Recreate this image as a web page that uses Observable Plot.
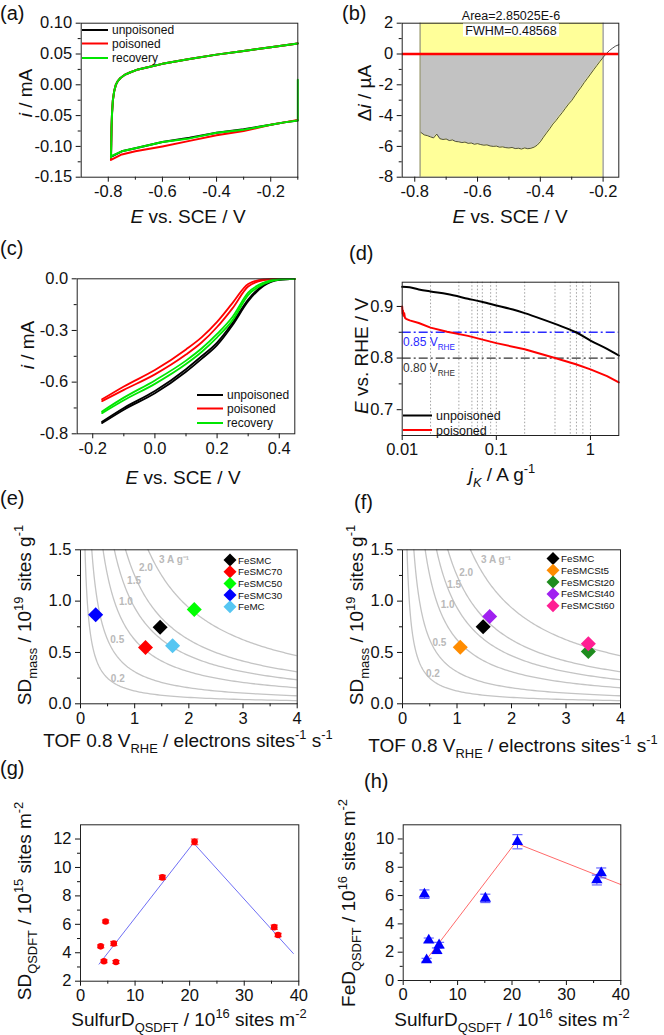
<!DOCTYPE html>
<html><head><meta charset="utf-8">
<script src="https://cdn.jsdelivr.net/npm/d3@7"></script>
<script src="https://cdn.jsdelivr.net/npm/@observablehq/plot@0.6"></script>
<style>
body{margin:0;background:#fff;}
#chart{position:relative;width:664px;height:1035px;overflow:hidden;font-family:"Liberation Sans",Arial,sans-serif;}
#chart svg{position:absolute;left:0;top:0;}
</style></head><body><div id="chart"></div>
<script>
// ---------- DATA ----------
// (a) cyclic voltammograms
const seriesNames = ["unpoisoned", "poisoned", "recovery"];
const seriesColors = ["#000000", "#ff0000", "#00e600"];
const aAnodicE = [-0.79, -0.789, -0.788, -0.786, -0.783, -0.778, -0.772, -0.765, -0.755, -0.74, -0.72, -0.69, -0.65, -0.60, -0.50, -0.40, -0.30, -0.20, -0.10];
const aAnodicI = [-0.118, -0.095, -0.07, -0.045, -0.025, -0.01, 0.0, 0.006, 0.011, 0.016, 0.020, 0.025, 0.029, 0.034, 0.042, 0.049, 0.055, 0.061, 0.067];
const aCathodicE = [-0.10, -0.15, -0.20, -0.30, -0.40, -0.50, -0.60, -0.70, -0.75, -0.79];
const aCathodicUnpoisoned = [-0.058, -0.061, -0.065, -0.072, -0.078, -0.086, -0.093, -0.103, -0.108, -0.117];
const aCathodicPoisoned = [-0.057, -0.061, -0.065, -0.075, -0.082, -0.091, -0.100, -0.108, -0.113, -0.122];
const aCathodicRecovery = [-0.058, -0.061, -0.065, -0.073, -0.078, -0.087, -0.093, -0.103, -0.108, -0.116];
const aRecoverySpikeI = [0.008, -0.05]; // vertical segment at -0.1 V
const aXTicks = [-0.8, -0.6, -0.4, -0.2], aXLabels = ["-0.8", "-0.6", "-0.4", "-0.2"], aXMinor = [-0.7, -0.5, -0.3, -0.1];
const aYTicks = [0.10, 0.05, 0, -0.05, -0.10, -0.15], aYLabels = ["0.10", "0.05", "0.00", "-0.05", "-0.10", "-0.15"], aYMinor = [0.075, 0.025, -0.025, -0.075, -0.125];

// (b) difference current
const bE = [-0.78,-0.77,-0.76,-0.75,-0.74,-0.73,-0.72,-0.71,-0.70,-0.69,-0.68,-0.67,-0.66,-0.65,-0.64,-0.63,-0.62,-0.61,-0.60,-0.59,-0.58,-0.57,-0.56,-0.55,-0.54,-0.53,-0.52,-0.51,-0.50,-0.49,-0.48,-0.47,-0.46,-0.45,-0.44,-0.43,-0.42,-0.41,-0.40,-0.39,-0.38,-0.37,-0.36,-0.35,-0.34,-0.33,-0.32,-0.31,-0.30,-0.29,-0.28,-0.27,-0.26,-0.25,-0.24,-0.23,-0.22,-0.21,-0.20,-0.19,-0.18,-0.17,-0.16,-0.15];
const bDi = [-5.10,-5.25,-5.30,-5.38,-5.45,-5.20,-5.50,-5.55,-5.52,-5.62,-5.58,-5.68,-5.70,-5.75,-5.72,-5.80,-5.78,-5.86,-5.82,-5.88,-5.92,-5.90,-5.97,-6.00,-5.98,-6.05,-6.03,-6.08,-6.10,-6.07,-6.14,-6.12,-6.17,-6.10,-6.15,-6.12,-6.05,-5.92,-5.70,-5.40,-5.12,-4.85,-4.55,-4.32,-4.05,-3.80,-3.52,-3.25,-3.02,-2.72,-2.42,-2.15,-1.85,-1.58,-1.30,-1.02,-0.75,-0.48,-0.22,0.02,0.22,0.38,0.52,0.60];
const bWindow = [-0.783, -0.2];
const bBaseline = [0];
const bNotes = ["Area=2.85025E-6", "FWHM=0.48568"];
const bXTicks = [-0.8, -0.6, -0.4, -0.2], bXLabels = ["-0.8", "-0.6", "-0.4", "-0.2"], bXMinor = [-0.7, -0.5, -0.3];
const bYTicks = [2, 0, -2, -4, -6, -8], bYLabels = ["2", "0", "-2", "-4", "-6", "-8"], bYMinor = [1, -1, -3, -5, -7];

// (c) ORR polarisation curves (two sweeps each)
const cE = [-0.17, -0.1, 0.0, 0.1, 0.15, 0.2, 0.25, 0.3, 0.35, 0.4, 0.45];
const cUnpoisonedA = [-0.838, -0.76, -0.665, -0.54, -0.465, -0.385, -0.268, -0.13, -0.04, -0.006, 0];
const cUnpoisonedB = [-0.83, -0.75, -0.652, -0.525, -0.45, -0.37, -0.255, -0.12, -0.035, -0.004, 0];
const cPoisonedA = [-0.71, -0.645, -0.555, -0.44, -0.37, -0.28, -0.17, -0.045, -0.008, 0, 0];
const cPoisonedB = [-0.70, -0.625, -0.53, -0.41, -0.34, -0.25, -0.14, -0.03, -0.004, 0, 0];
const cRecoveryA = [-0.78, -0.705, -0.61, -0.495, -0.425, -0.34, -0.24, -0.095, -0.03, -0.004, 0];
const cRecoveryB = [-0.77, -0.69, -0.59, -0.475, -0.405, -0.32, -0.22, -0.08, -0.022, -0.002, 0];
const cXTicks = [-0.2, 0, 0.2, 0.4], cXLabels = ["-0.2", "0.0", "0.2", "0.4"], cXMinor = [-0.1, 0.1, 0.3];
const cYTicks = [0, -0.3, -0.6, -0.9], cYLabels = ["0.0", "-0.3", "-0.6", "-0.8"], cYMinor = [-0.15, -0.45, -0.75];

// (d) mass-activity Tafel plot
const dUnpoisonedJ = [0.01, 0.012, 0.015, 0.02, 0.03, 0.05, 0.07, 0.1, 0.15, 0.2, 0.3, 0.5, 0.7, 1, 1.5, 2];
const dUnpoisonedE = [0.938, 0.937, 0.933, 0.929, 0.924, 0.915, 0.909, 0.902, 0.894, 0.887, 0.876, 0.861, 0.850, 0.834, 0.818, 0.805];
const dPoisonedJ = [0.01, 0.0101, 0.0102, 0.0103, 0.0105, 0.0107, 0.011, 0.012, 0.015, 0.02, 0.03, 0.05, 0.1, 0.2, 0.42, 0.7, 1, 1.5, 2];
const dPoisonedE = [0.900, 0.886, 0.892, 0.882, 0.887, 0.878, 0.876, 0.873, 0.868, 0.859, 0.851, 0.843, 0.829, 0.817, 0.800, 0.788, 0.778, 0.765, 0.753];
const dGridJ = [0.02, 0.04, 0.055, 0.063, 0.071, 0.087, 0.1, 0.2, 0.42, 0.61, 0.71, 0.83, 1];
const dRefLevels = [0.85, 0.80];
const dRefColors = ["#2b2bff", "#333333"];
const dXTicks = [0.01, 0.1, 1], dXLabels = ["0.01", "0.1", "1"];
const dYTicks = [0.9, 0.8, 0.7], dYLabels = ["0.9", "0.8", "0.7"], dYMinor = [0.85, 0.75];

// (e), (f) site density vs TOF
const isoLevels = [0.2, 0.5, 1.0, 1.5, 2.0, 3];
const isoLabels = ["0.2", "0.5", "1.0", "1.5", "2.0", "3 A g\u207B\u00B9"];
const eNames = ["FeSMC", "FeSMC70", "FeSMC50", "FeSMC30", "FeMC"];
const eTOF = [1.47, 1.20, 2.10, 0.28, 1.70];
const eSD = [0.745, 0.548, 0.918, 0.868, 0.565];
const eColors = ["#000000", "#ff0000", "#00ff00", "#0000ff", "#56c6f2"];
const eIsoLabelTOF = [0.56, 0.55, 0.71, 0.86, 1.08, 1.45];
const eIsoLabelSD = [0.24, 0.62, 0.99, 1.20, 1.325, 1.40];
const fNames = ["FeSMC", "FeSMCSt5", "FeSMCSt20", "FeSMCSt40", "FeSMCSt60"];
const fTOF = [1.48, 1.06, 3.41, 1.60, 3.41];
const fSD = [0.75, 0.55, 0.51, 0.85, 0.585];
const fColors = ["#000000", "#ff8c00", "#1e8c1e", "#a020f0", "#ff1f93"];
const fIsoLabelTOF = [0.43, 0.55, 0.70, 0.82, 1.04, 1.44];
const fIsoLabelSD = [0.29, 0.59, 0.96, 1.16, 1.28, 1.40];
const efXTicks = [0, 1, 2, 3, 4], efXLabels = ["0", "1", "2", "3", "4"], efXMinor = [0.5, 1.5, 2.5, 3.5];
const efYTicks = [0, 0.5, 1, 1.5], efYLabels = ["0.0", "0.5", "1.0", "1.5"], efYMinor = [0.25, 0.75, 1.25];
const chargePerSite = 1.602; // A g^-1 per (1e19 sites g^-1 · e site^-1 s^-1)

// (g) SD vs sulfur density
const gX = [3.7, 4.3, 4.6, 6.1, 6.5, 15.0, 20.9, 35.5, 36.2];
const gY = [4.45, 3.4, 6.2, 4.65, 3.35, 9.3, 11.8, 5.8, 5.25];
const gErr = [0.1, 0.1, 0.1, 0.15, 0.1, 0.15, 0.2, 0.15, 0.12];
const gFitX = [3.4, 20.7, 39.0], gFitY = [3.2, 11.72, 3.95];
const gXTicks = [0, 10, 20, 30, 40], gXMinor = [5, 15, 25, 35];
const gYTicks = [2, 4, 6, 8, 10, 12], gYMinor = [3, 5, 7, 9, 11];
// (h) FeD vs sulfur density
const hX = [3.9, 4.3, 4.7, 6.2, 6.6, 15.1, 21.0, 35.6, 36.4];
const hY = [6.1, 1.45, 2.85, 2.1, 2.5, 5.8, 9.8, 7.1, 7.6];
const hErr = [0.3, 0.12, 0.15, 0.2, 0.2, 0.3, 0.5, 0.35, 0.35];
const hFitX = [4.3, 20.6, 40], hFitY = [1.5, 9.72, 6.78];
const hYTicks = [0, 2, 4, 6, 8, 10], hYMinor = [1, 3, 5, 7, 9];

// ---------- HELPERS ----------
const W = 664, H = 1035;
const FONT = '"Liberation Sans", Arial, sans-serif';
const root = document.getElementById("chart");
const lab = (ticks, labels) => d => { const i = ticks.indexOf(d); return i < 0 ? "" : labels[i]; };
function axes(o) {
  const m = [
    Plot.axisX({ticks: o.xt, tickSize: 5, tickPadding: 3, tickFormat: lab(o.xt, o.xl), label: null, fontSize: 16.5}),
    Plot.axisY({ticks: o.yt, tickSize: 5, tickPadding: 4, tickFormat: lab(o.yt, o.yl), label: null, fontSize: 16.5})
  ];
  if (o.xm) m.push(Plot.axisX({ticks: o.xm, tickSize: 3, tickFormat: () => "", label: null}));
  if (o.ym) m.push(Plot.axisY({ticks: o.ym, tickSize: 3, tickFormat: () => "", label: null}));
  m.push(Plot.frame({stroke: "#222", strokeWidth: 1}));
  return m;
}
function panel(frame, x, y, marks) {
  const [x0, x1, y0, y1] = frame;
  const svg = Plot.plot({
    width: W, height: H,
    marginLeft: x0, marginRight: W - x1, marginTop: y0, marginBottom: H - y1,
    x, y,
    style: {background: "transparent", fontFamily: FONT, fontSize: "16px", color: "#111", overflow: "visible"},
    marks
  });
  root.appendChild(svg);
}
const diamond = {draw(ctx, size) { const r = Math.sqrt(size / 2); ctx.moveTo(0, -r); ctx.lineTo(r, 0); ctx.lineTo(0, r); ctx.lineTo(-r, 0); ctx.closePath(); }};
const cap = {draw(ctx, size) { const w = Math.sqrt(size) * 0.95; ctx.moveTo(-w, 0); ctx.lineTo(w, 0); }};

// ---------- PANEL (a) ----------
const aRows = [];
const aCath = [aCathodicUnpoisoned, aCathodicPoisoned, aCathodicRecovery];
seriesNames.forEach((s, k) => {
  if (s === "recovery") aRecoverySpikeI.forEach(v => aRows.push({s, E: -0.1, i: v}));
  aCathodicE.forEach((e, j) => aRows.push({s, E: e, i: aCath[k][j]}));
  aAnodicE.forEach((e, j) => aRows.push({s, E: e, i: aAnodicI[j]}));
});
panel([80.7, 297.3, 22.7, 176.7], {domain: [-0.9, -0.1]}, {domain: [-0.15, 0.10]}, [
  ...seriesNames.map((s, k) => Plot.line(aRows.filter(r => r.s === s), {x: "E", y: "i", stroke: seriesColors[k], strokeWidth: 2})),
  ...axes({xt: aXTicks, xl: aXLabels, xm: aXMinor, yt: aYTicks, yl: aYLabels, ym: aYMinor})
]);

// ---------- PANEL (b) ----------
const bRows = bE.map((e, j) => ({E: e, di: bDi[j]}));
const bIn = bRows.filter(r => r.E >= bWindow[0] - 1e-9 && r.E <= bWindow[1] + 1e-9);
panel([401.7, 618.3, 22.7, 176.7], {domain: [-0.84, -0.15]}, {domain: [-8, 2]}, [
  Plot.rect([bWindow], {x1: d => d[0], x2: d => d[1], fill: "#ffff99"}),
  Plot.areaY(bIn, {x: "E", y1: 0, y2: "di", fill: "#c2c2c2"}),
  Plot.ruleX(bWindow, {stroke: "#7a7a7a", strokeWidth: 1}),
  Plot.line(bRows, {x: "E", y: "di", stroke: "#222", strokeWidth: 0.8}),
  Plot.ruleY(bBaseline, {stroke: "#ff0000", strokeWidth: 2.5}),
  ...axes({xt: bXTicks, xl: bXLabels, xm: bXMinor, yt: bYTicks, yl: bYLabels, ym: bYMinor})
]);

// ---------- PANEL (c) ----------
const cSweeps = [[cUnpoisonedA, cUnpoisonedB], [cPoisonedA, cPoisonedB], [cRecoveryA, cRecoveryB]];
const cRows = [];
seriesNames.forEach((s, k) => cSweeps[k].forEach((arr, b) => cE.forEach((e, j) => cRows.push({s, z: s + b, E: e, i: arr[j]}))));
panel([76.7, 294.3, 278.3, 433.3], {domain: [-0.25, 0.45]}, {domain: [-0.9, 0]}, [
  ...seriesNames.map((s, k) => Plot.line(cRows.filter(r => r.s === s), {x: "E", y: "i", z: "z", stroke: seriesColors[k], strokeWidth: 1.8, curve: "monotone-x"})),
  ...axes({xt: cXTicks, xl: cXLabels, xm: cXMinor, yt: cYTicks, yl: cYLabels, ym: cYMinor})
]);

// ---------- PANEL (d) ----------
const dRows = [
  ...dUnpoisonedJ.map((j, k) => ({s: "unpoisoned", j, E: dUnpoisonedE[k]})),
  ...dPoisonedJ.map((j, k) => ({s: "poisoned", j, E: dPoisonedE[k]}))
];
panel([401.7, 618.3, 281.7, 435], {type: "log", domain: [0.01, 2]}, {domain: [0.65, 0.947]}, [
  Plot.ruleX(dGridJ, {stroke: "#8a8a8a", strokeWidth: 0.8, strokeDasharray: "1.5,2"}),
  Plot.ruleY(dRefLevels, {y: d => d, stroke: (d, i) => dRefColors[i], strokeWidth: 1.3, strokeDasharray: "9,3,2,3"}),
  Plot.line(dRows.filter(r => r.s === "unpoisoned"), {x: "j", y: "E", stroke: "#000", strokeWidth: 2, curve: "monotone-x"}),
  Plot.line(dRows.filter(r => r.s === "poisoned"), {x: "j", y: "E", stroke: "#ff0000", strokeWidth: 2}),
  ...axes({xt: dXTicks, xl: dXLabels, yt: dYTicks, yl: dYLabels, ym: dYMinor})
]);

// ---------- PANELS (e), (f) ----------
function isoRows() {
  const rows = [];
  isoLevels.forEach(j => {
    const t0 = j / (chargePerSite * 1.55);
    for (let k = 0; k <= 120; k++) {
      const t = t0 * Math.pow(4.2 / t0, k / 120);
      rows.push({j, tof: t, sd: j / (chargePerSite * t)});
    }
  });
  return rows;
}
function sdPanel(frame, names, tof, sd, colors, lx, ly) {
  const pts = names.map((n, k) => ({n, tof: tof[k], sd: sd[k], c: colors[k]}));
  const lbl = isoLabels.map((t, k) => ({t, tof: lx[k], sd: ly[k]}));
  panel(frame, {domain: [0, 4]}, {domain: [0, 1.5]}, [
    Plot.line(isoRows(), {x: "tof", y: "sd", z: "j", stroke: "#c4c4c4", strokeWidth: 1.3, clip: true}),
    Plot.text(lbl, {x: "tof", y: "sd", text: "t", textAnchor: "start", fill: "#b9b9b9", fontSize: 10, fontWeight: "bold"}),
    Plot.dot(pts, {x: "tof", y: "sd", fill: "c", symbol: diamond, r: 6}),
    ...axes({xt: efXTicks, xl: efXLabels, xm: efXMinor, yt: efYTicks, yl: efYLabels, ym: efYMinor})
  ]);
}
sdPanel([80, 296.7, 549.3, 703.3], eNames, eTOF, eSD, eColors, eIsoLabelTOF, eIsoLabelSD);
sdPanel([402, 620, 549.3, 703.3], fNames, fTOF, fSD, fColors, fIsoLabelTOF, fIsoLabelSD);

// ---------- PANELS (g), (h) ----------
function scatterPanel(frame, yDomain, yt, ym, xs, ys, errs, fitX, fitY, ptColor, errColor, fitColor, symbol, r, capR) {
  const pts = xs.map((x, k) => ({x, y: ys[k], lo: ys[k] - errs[k], hi: ys[k] + errs[k]}));
  const caps = pts.flatMap(p => [{x: p.x, y: p.lo}, {x: p.x, y: p.hi}]);
  const fit = fitX.map((x, k) => ({x, y: fitY[k]}));
  panel(frame, {domain: [0, 40]}, {domain: yDomain}, [
    Plot.line(fit, {x: "x", y: "y", stroke: fitColor, strokeWidth: 1}),
    Plot.ruleX(pts, {x: "x", y1: "lo", y2: "hi", stroke: errColor, strokeWidth: 1}),
    Plot.dot(caps, {x: "x", y: "y", symbol: cap, r: capR, stroke: errColor, strokeWidth: 1, fill: "none"}),
    Plot.dot(pts, {x: "x", y: "y", fill: ptColor, symbol, r}),
    ...axes({xt: gXTicks, xl: gXTicks.map(String), xm: gXMinor, yt: yt, yl: yt.map(String), ym: ym})
  ]);
}
scatterPanel([80, 298.3, 824.3, 980.7], [2, 13], gYTicks, gYMinor, gX, gY, gErr, gFitX, gFitY, "#ff0000", "#ff3030", "#6f6ff5", "circle", 3.3, 2.2);
scatterPanel([402.7, 620.3, 824.3, 980], [0, 11], hYTicks, hYMinor, hX, hY, hErr, hFitX, hFitY, "#0000ff", "#4a4aff", "#ff6a6a", "triangle", 4.2, 3);

// ---------- OVERLAY TEXT (titles, letters, legends) ----------
const ov = d3.create("svg").attr("width", W).attr("height", H).style("font-family", FONT);
function rich(x, y, parts, {size = 19, anchor = "middle", rotate = 0, fill = "#111"} = {}) {
  const t = ov.append("text")
    .attr("transform", `translate(${x},${y}) rotate(${rotate}) translate(0,${0.36 * size})`)
    .attr("text-anchor", anchor).attr("font-size", size).attr("fill", fill);
  let shift = 0;
  for (const p of parts) {
    const [s, kind] = Array.isArray(p) ? p : [p, null];
    const ts = t.append("tspan").text(s);
    const target = kind && kind.startsWith("sub") ? 0.3 * size : kind === "sup" ? -0.42 * size : 0;
    if (target !== shift) { ts.attr("dy", target - shift); shift = target; }
    if (kind && (kind.startsWith("sub") || kind === "sup")) ts.attr("font-size", size * 0.68);
    if (kind === "it" || kind === "sub-it") ts.attr("font-style", "italic");
  }
  return t;
}
// panel letters
[["(a)", 0, 13], ["(b)", 342, 13], ["(c)", 0, 248], ["(d)", 349, 253], ["(e)", 0, 498], ["(f)", 354, 502], ["(g)", 0, 768], ["(h)", 364, 781]]
  .forEach(([s, x, y]) => rich(x, y, [s], {size: 20, anchor: "start"}));
// axis titles
const eVsSCE = [["E", "it"], " vs. SCE / V"];
rich(25, 93, [["i", "it"], " / mA"], {rotate: -90});
rich(188, 216, eVsSCE);
rich(364, 93, ["\u0394", ["i", "it"], " / \u00B5A"], {rotate: -90});
rich(510, 216, eVsSCE);
rich(27, 345, [["i", "it"], " / mA"], {rotate: -90});
rich(183, 477, eVsSCE);
rich(361, 356, [["E", "it"], " vs. RHE / V"], {rotate: -90});
rich(502, 474, [["j", "it"], ["K", "sub-it"], " / A g", ["-1", "sup"]]);
const sdMass = ["SD", ["mass", "sub"], " / 10", ["19", "sup"], " sites g", ["-1", "sup"]];
const tofLabel = ["TOF 0.8 V", ["RHE", "sub"], " / electrons sites", ["-1", "sup"], " s", ["-1", "sup"]];
rich(24, 615, sdMass, {rotate: -90});
rich(188, 740, tofLabel);
rich(356, 615, sdMass, {rotate: -90});
rich(513, 745, tofLabel);
const sulfur = ["SulfurD", ["QSDFT", "sub"], " / 10", ["16", "sup"], " sites m", ["-2", "sup"]];
rich(24, 901, ["SD", ["QSDFT", "sub"], " / 10", ["15", "sup"], " sites m", ["-2", "sup"]], {rotate: -90});
rich(189, 1019, sulfur);
rich(348, 903, ["FeD", ["QSDFT", "sub"], " / 10", ["16", "sup"], " sites m", ["-2", "sup"]], {rotate: -90});
rich(512, 1019, sulfur);
// (b) notes
ov.append("rect").attr("x", 463).attr("y", 23.5).attr("width", 96).attr("height", 13).attr("fill", "#fff");
rich(511, 15, [bNotes[0]], {size: 12.5});
rich(511, 30, [bNotes[1]], {size: 12.5});
// (d) reference labels
rich(403, 342, ["0.85 V", ["RHE", "sub"]], {size: 12, anchor: "start", fill: dRefColors[0]});
rich(403, 368, ["0.80 V", ["RHE", "sub"]], {size: 12, anchor: "start", fill: dRefColors[1]});
// line legends
function lineLegend(x, ys, names, colors, len, size) {
  names.forEach((n, k) => {
    ov.append("line").attr("x1", x).attr("x2", x + len).attr("y1", ys[k]).attr("y2", ys[k]).attr("stroke", colors[k]).attr("stroke-width", 2);
    rich(x + len + 4, ys[k], [n], {size, anchor: "start"});
  });
}
lineLegend(82, [30, 43.5, 58], seriesNames, seriesColors, 26, 12);
lineLegend(197, [395, 408.5, 423], seriesNames, seriesColors, 26, 12);
lineLegend(403, [415.5, 430], ["unpoisoned", "poisoned"], ["#000", "#ff0000"], 29, 12.5);
function diamondLegend(x, y0, dy, names, colors) {
  names.forEach((n, k) => {
    const y = y0 + k * dy, r = 6.5;
    ov.append("path").attr("d", `M${x},${y - r}L${x + r},${y}L${x},${y + r}L${x - r},${y}Z`).attr("fill", colors[k]);
    rich(x + 8, y, [n], {size: 9.8, anchor: "start"});
  });
}
diamondLegend(230, 560, 11.7, eNames, eColors);
diamondLegend(553, 558.5, 11.8, fNames, fColors);
root.appendChild(ov.node());
</script></body></html>
